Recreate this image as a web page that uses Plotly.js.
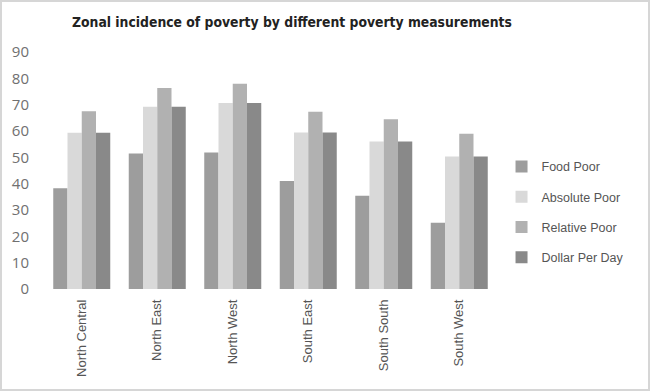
<!DOCTYPE html>
<html>
<head>
<meta charset="utf-8">
<script src="https://cdn.plot.ly/plotly-3.0.1.min.js"></script>
<style>
  html, body { margin: 0; padding: 0; background: #fff; }
  #frame { position: absolute; left: 0; top: 0; width: 650px; height: 391px; box-sizing: border-box; border: 2px solid #d6d6d6; }
  #chart { position: absolute; left: 0; top: 0; width: 650px; height: 391px; }
</style>
</head>
<body>
<div id="chart"></div>
<div id="frame"></div>
<script>
const zones = ["North Central", "North East", "North West", "South East", "South South", "South West"];
const foodPoor     = [38.3, 51.5, 51.8, 41.0, 35.4, 25.2];
const absolutePoor = [59.3, 69.2, 70.6, 59.4, 56.0, 50.3];
const relativePoor = [67.5, 76.3, 77.9, 67.3, 64.5, 59.0];
const dollarPerDay = [59.3, 69.2, 70.6, 59.4, 56.0, 50.3];
const seriesNames  = ["Food Poor", "Absolute Poor", "Relative Poor", "Dollar Per Day"];
const seriesColors = ["#9d9d9d", "#d9d9d9", "#b1b1b1", "#898989"];
const yTicks = [0, 10, 20, 30, 40, 50, 60, 70, 80, 90];

const seriesValues = [foodPoor, absolutePoor, relativePoor, dollarPerDay];
const traces = seriesValues.map((vals, i) => ({
  type: "bar",
  name: seriesNames[i],
  x: zones,
  y: vals,
  legendgroup: "g" + i,
  marker: { color: seriesColors[i], line: { width: 0 } },
  hoverinfo: "x+y+name"
}));

const layout = {
  width: 650,
  height: 391,
  margin: { l: 44, r: 153, t: 52, b: 102 },
  paper_bgcolor: "#ffffff",
  plot_bgcolor: "#ffffff",
  barmode: "group",
  bargap: 0.245,
  bargroupgap: 0,
  title: {
    text: "<b>Zonal incidence of poverty by different poverty measurements</b>",
    font: { family: "DejaVu Sans Condensed, sans-serif", size: 13.8, color: "#222222" },
    x: 292 / 650,
    xanchor: "center",
    y: 1 - 22 / 391,
    yanchor: "middle"
  },
  xaxis: {
    type: "category",
    tickangle: -90,
    showgrid: false,
    zeroline: false,
    showline: false,
    ticks: "",
    ticklabelstandoff: 7,
    tickfont: { family: "Liberation Sans, Arial, sans-serif", size: 13, color: "#555555" }
  },
  yaxis: {
    range: [0, 90],
    tickvals: yTicks,
    showgrid: false,
    zeroline: false,
    showline: false,
    ticks: "",
    ticklabelstandoff: 14,
    tickfont: { family: "Open Sans, sans-serif", size: 15, color: "#707070" }
  },
  legend: {
    x: 1.01,
    xanchor: "left",
    y: 0.325,
    yanchor: "middle",
    traceorder: "grouped",
    tracegroupgap: 11,
    font: { family: "Liberation Sans, Arial, sans-serif", size: 12.5, color: "#555555" },
    bgcolor: "rgba(0,0,0,0)"
  },
  showlegend: true
};

Plotly.newPlot("chart", traces, layout, { displayModeBar: false, staticPlot: true });
</script>
</body>
</html>
